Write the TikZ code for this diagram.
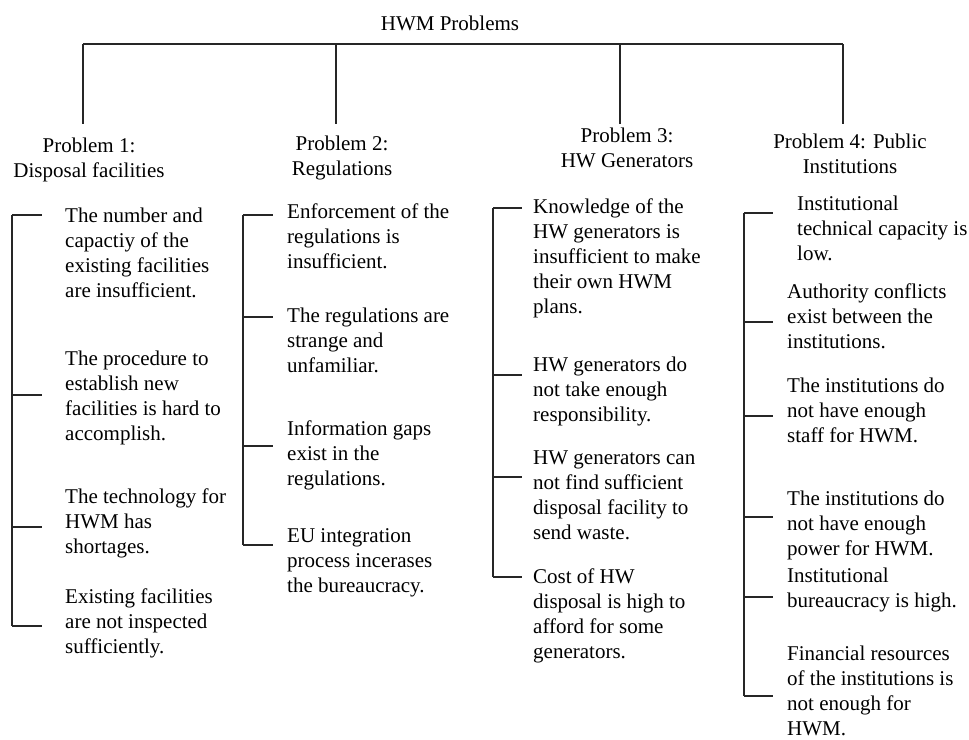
\documentclass[tikz,border=0pt]{standalone}
\usepackage{fontspec}
\setmainfont{Liberation Serif}
\usetikzlibrary{positioning}
\newcommand{\diagsize}{\fontsize{21pt}{25pt}\selectfont}
\tikzset{
  % problem headings under the top bar
  head/.style={align=center, inner sep=0pt, font=\diagsize},
  % one cause in a column, placed by the baseline of its first line
  cause/.style={align=left, inner sep=0pt, anchor=north west, yshift=14.3pt, font=\diagsize},
  % tree lines
  link/.style={line width=1.3pt, draw=black!85},
}

\begin{document}
\begin{tikzpicture}[x=1pt, y=-1pt]
  \useasboundingbox (0,0) rectangle (969,739);
  \node[head, anchor=base] (root) at (450,30) {HWM Problems};

  % top bar and the four drops
  \coordinate (b1) at (83,44);
  \coordinate (b2) at (336,44);
  \coordinate (b3) at (620,44);
  \coordinate (b4) at (843,44);
  \coordinate (d1) at (83,124);
  \coordinate (d2) at (336,124);
  \coordinate (d3) at (620,124);
  \coordinate (d4) at (843,124);
  \draw[link] (b1) -- (b4);
  \draw[link] (b1) -- (d1);
  \draw[link] (b2) -- (d2);
  \draw[link] (b3) -- (d3);
  \draw[link] (b4) -- (d4);

  \node[head, below=13.5pt of d1, xshift=6pt] (h1) {Problem 1:\\Disposal facilities};
  \node[head, below=11.5pt of d2, xshift=6pt] (h2) {Problem 2:\\Regulations};
  \node[head, below=3.5pt of d3, xshift=7pt]  (h3) {Problem 3:\\HW Generators};
  \node[head, below=9.5pt of d4, xshift=7pt]  (h4) {Problem 4: Public\\Institutions};

  % column 1
  \coordinate (s1) at (12,0);
  \coordinate (t1a) at (42,215);
  \coordinate (t1b) at (42,395);
  \coordinate (t1c) at (42,527);
  \coordinate (t1d) at (42,626);
  \node[cause] (c1a) at (65,222) {The number and\\capactiy of the\\existing facilities\\are insufficient.};
  \node[cause] (c1b) at (65,365) {The procedure to\\establish new\\facilities is hard to\\accomplish.};
  \node[cause] (c1c) at (65,503) {The technology for\\HWM has\\shortages.};
  \node[cause] (c1d) at (65,603) {Existing facilities\\are not inspected\\sufficiently.};
  \draw[link] (s1 |- t1a) -- (s1 |- t1d);
  \foreach \t in {t1a,t1b,t1c,t1d}
    \draw[link] (s1 |- \t) -- (\t);

  % column 2
  \coordinate (s2) at (243,0);
  \coordinate (t2a) at (273,215);
  \coordinate (t2b) at (273,317);
  \coordinate (t2c) at (273,446);
  \coordinate (t2d) at (273,545);
  \node[cause] (c2a) at (287,218) {Enforcement of the\\regulations is\\insufficient.};
  \node[cause] (c2b) at (287,322) {The regulations are\\strange and\\unfamiliar.};
  \node[cause] (c2c) at (287,435) {Information gaps\\exist in the\\regulations.};
  \node[cause] (c2d) at (287,543) {EU integration\\process incerases\\the bureaucracy.};
  \draw[link] (s2 |- t2a) -- (s2 |- t2d);
  \foreach \t in {t2a,t2b,t2c,t2d}
    \draw[link] (s2 |- \t) -- (\t);

  % column 3
  \coordinate (s3) at (493,0);
  \coordinate (t3a) at (522,208);
  \coordinate (t3b) at (522,375);
  \coordinate (t3c) at (522,477);
  \coordinate (t3d) at (522,577);
  \node[cause] (c3a) at (533,213) {Knowledge of the\\HW generators is\\insufficient to make\\their own HWM\\plans.};
  \node[cause] (c3b) at (533,371) {HW generators do\\not take enough\\responsibility.};
  \node[cause] (c3c) at (533,465) {HW generators can\\not find sufficient\\disposal facility to\\send waste.};
  \node[cause] (c3d) at (533,583) {Cost of HW\\disposal is high to\\afford for some\\generators.};
  \draw[link] (s3 |- t3a) -- (s3 |- t3d);
  \foreach \t in {t3a,t3b,t3c,t3d}
    \draw[link] (s3 |- \t) -- (\t);

  % column 4
  \coordinate (s4) at (744,0);
  \coordinate (t4a) at (773,213);
  \coordinate (t4b) at (773,322);
  \coordinate (t4c) at (773,416);
  \coordinate (t4d) at (773,517);
  \coordinate (t4e) at (773,597);
  \coordinate (t4f) at (773,696);
  \node[cause] (c4a) at (797,210) {Institutional\\technical capacity is\\low.};
  \node[cause] (c4b) at (787,298) {Authority conflicts\\exist between the\\institutions.};
  \node[cause] (c4c) at (787,392) {The institutions do\\not have enough\\staff for HWM.};
  \node[cause] (c4d) at (787,505) {The institutions do\\not have enough\\power for HWM.};
  \node[cause] (c4e) at (787,582) {Institutional\\bureaucracy is high.};
  \node[cause] (c4f) at (787,660) {Financial resources\\of the institutions is\\not enough for\\HWM.};
  \draw[link] (s4 |- t4a) -- (s4 |- t4f);
  \foreach \t in {t4a,t4b,t4c,t4d,t4e,t4f}
    \draw[link] (s4 |- \t) -- (\t);
\end{tikzpicture}
\end{document}
